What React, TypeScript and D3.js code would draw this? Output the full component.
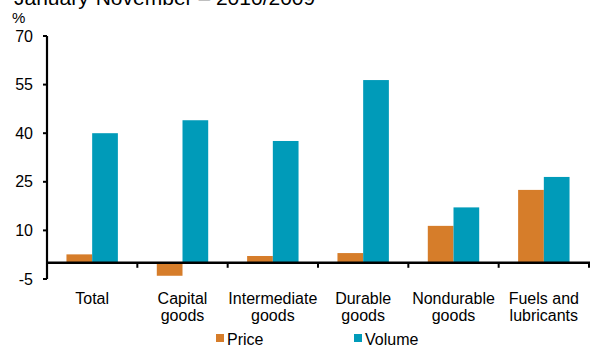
import React from "react";
import * as d3 from "d3";

const categories: string[][] = [
  ["Total"],
  ["Capital", "goods"],
  ["Intermediate", "goods"],
  ["Durable", "goods"],
  ["Nondurable", "goods"],
  ["Fuels and", "lubricants"],
];
const priceValues = [2.6, -4.0, 2.1, 3.0, 11.4, 22.5];
const volumeValues = [40.0, 44.0, 37.6, 56.4, 17.1, 26.5];
const seriesNames = ["Price", "Volume"];
const seriesColors = ["#D67D2A", "#009BB9"];
const yTicks = [70, 55, 40, 25, 10, -5];
const title = "January-November – 2010/2009";

export default function App() {
  const W = 590, H = 347;
  const x0 = 47, x1 = 589;
  const y = d3.scaleLinear().domain([-5, 70]).range([279, 36]);
  const xBand = d3
    .scaleBand<number>()
    .domain(categories.map((_, i) => i))
    .range([x0, x1])
    .padding(0);
  const xInner = d3
    .scaleBand<string>()
    .domain(seriesNames)
    .range([0, xBand.bandwidth()])
    .paddingInner(0)
    .paddingOuter(0.757);
  const data = [priceValues, volumeValues];
  const font = "'Liberation Sans', Arial, sans-serif";
  const y0 = y(0);

  return (
    <svg
      width={W}
      height={H}
      style={{ position: "absolute", left: 0, top: 0, fontFamily: font }}
    >
      <rect width={W} height={H} fill="#fff" />
      <text x={14} y={5} fontSize={21} fill="#000">
        {title}
      </text>
      <text x={12} y={23} fontSize={15} fill="#000">
        %
      </text>
      {/* bars */}
      {seriesNames.map((s, si) =>
        data[si].map((v, i) => {
          const bx = (xBand(i) as number) + (xInner(s) as number);
          const top = Math.min(y(v), y0);
          const h = Math.abs(y(v) - y0);
          return (
            <rect
              key={s + i}
              x={bx}
              y={top}
              width={xInner.bandwidth()}
              height={h}
              fill={seriesColors[si]}
            />
          );
        })
      )}
      {/* y axis */}
      <line x1={x0} x2={x0} y1={y(70)} y2={y(-5)} stroke="#000" strokeWidth={2.2} />
      {yTicks.map((t) => (
        <g key={t}>
          <line x1={x0 - 4} x2={x0} y1={y(t)} y2={y(t)} stroke="#000" strokeWidth={2} />
          <text x={33} y={y(t) + 5.5} fontSize={16} textAnchor="end" fill="#000">
            {t}
          </text>
        </g>
      ))}
      {/* zero line */}
      <line x1={x0} x2={x1 + 1} y1={y0} y2={y0} stroke="#000" strokeWidth={2.4} />
      {categories.map((_, i) =>
        i > 0 ? (
          <line
            key={"t" + i}
            x1={xBand(i) as number}
            x2={xBand(i) as number}
            y1={y0}
            y2={y0 + 5}
            stroke="#000"
            strokeWidth={2}
          />
        ) : null
      )}
      <line x1={x1} x2={x1} y1={y0} y2={y0 + 5} stroke="#000" strokeWidth={2} />
      {/* category labels */}
      {categories.map((lines, i) => (
        <text
          key={"c" + i}
          x={(xBand(i) as number) + xBand.bandwidth() / 2}
          y={303.5}
          fontSize={16}
          textAnchor="middle"
          fill="#000"
        >
          {lines.map((l, j) => (
            <tspan key={j} x={(xBand(i) as number) + xBand.bandwidth() / 2} dy={j === 0 ? 0 : 17}>
              {l}
            </tspan>
          ))}
        </text>
      ))}
      {/* legend */}
      {seriesNames.map((s, si) => {
        const lx = si === 0 ? 216 : 354;
        return (
          <g key={"l" + s}>
            <rect x={lx} y={334} width={8} height={8} fill={seriesColors[si]} />
            <text x={lx + 11} y={345} fontSize={16} fill="#000">
              {s}
            </text>
          </g>
        );
      })}
    </svg>
  );
}
